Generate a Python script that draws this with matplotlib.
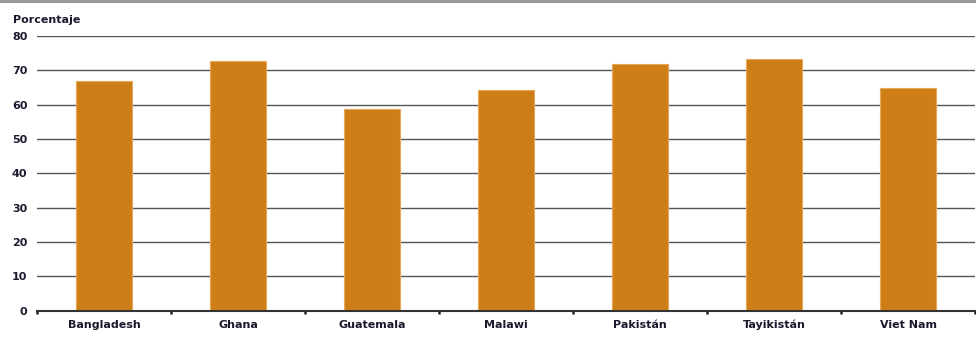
import matplotlib
matplotlib.use("Agg")
import matplotlib.pyplot as plt
from matplotlib.lines import Line2D

categories = ["Bangladesh", "Ghana", "Guatemala", "Malawi", "Pakistán", "Tayikistán", "Viet Nam"]
values = [67.0, 72.7, 58.8, 64.3, 71.9, 73.3, 64.9]
yticks = [0, 10, 20, 30, 40, 50, 60, 70, 80]

plt.rcParams['font.family'] = ['DejaVu Sans']

fig = plt.figure(figsize=(9.76, 3.39), dpi=100)
ax = fig.add_axes([0.038, 0.083, 0.961, 0.811])

x = list(range(len(categories)))
ax.bar(x, values, width=0.42, color="#CE7E16", edgecolor="#E6A85A", linewidth=0.8, zorder=3)

ax.set_xlim(-0.5, len(categories) - 0.5)
ax.set_ylim(0, 80)
ax.set_yticks(yticks)
ax.set_yticklabels([str(v) for v in yticks], fontsize=8, fontweight='bold', color="#1a1a2e")
ax.yaxis.grid(True, color="#555555", linewidth=1.0, zorder=0)
ax.tick_params(axis='y', length=0, pad=7)

ax.set_xticks(x)
ax.set_xticklabels(categories, fontsize=8, fontweight='bold', color="#1a1a2e")
ax.tick_params(axis='x', length=0, pad=12)
for lbl in ax.get_xticklabels():
    lbl.set_verticalalignment('baseline')
ax.set_xticks([i - 0.5 for i in range(len(categories) + 1)], minor=True)
ax.tick_params(axis='x', which='minor', length=2.5, width=1.8, color="#222222", direction='out')

for s in ['top', 'right', 'left']:
    ax.spines[s].set_visible(False)
ax.spines['bottom'].set_color("#333333")
ax.spines['bottom'].set_linewidth(1.5)
ax.spines['bottom'].set_zorder(4)

fig.text(0.013, 0.94, "Porcentaje", fontsize=8, fontweight='bold', color="#1a1a2e", ha='left', va='center')

fig.add_artist(Line2D([0, 1], [0.997, 0.997], transform=fig.transFigure, color="#999999", linewidth=3))

fig.savefig("out.png", dpi=100)
